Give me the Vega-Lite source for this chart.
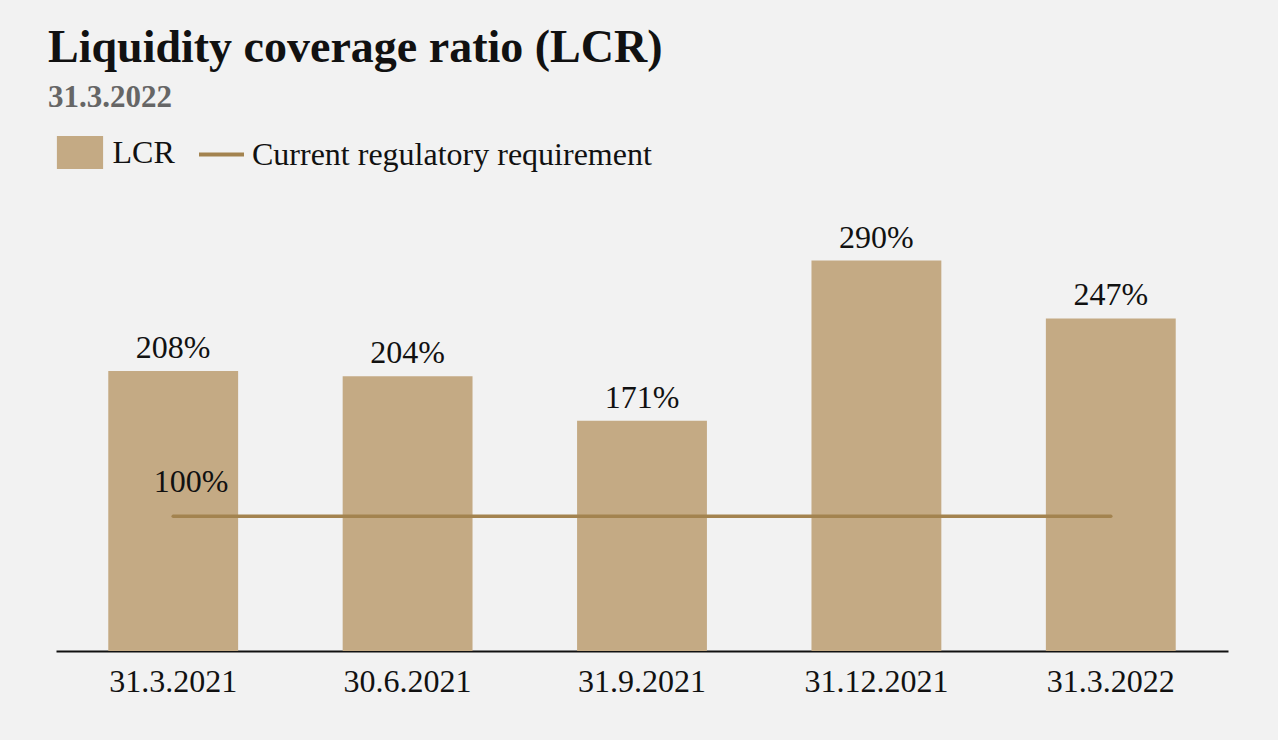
{
  "$schema": "https://vega.github.io/schema/vega-lite/v6.json",
  "autosize": "none",
  "width": 1172,
  "height": 451,
  "padding": {"left": 56, "top": 200, "right": 50, "bottom": 89},
  "background": "#f2f2f2",
  "title": {
    "text": "Liquidity coverage ratio (LCR)",
    "subtitle": "31.3.2022",
    "anchor": "start",
    "frame": "group",
    "dx": -8,
    "offset": 16,
    "font": "Liberation Serif",
    "fontSize": 46,
    "fontWeight": "bold",
    "color": "#111111",
    "subtitleFont": "Liberation Serif",
    "subtitleFontSize": 31,
    "subtitleFontWeight": "bold",
    "subtitleColor": "#666666",
    "subtitlePadding": 11
  },
  "config": {
    "view": {"stroke": null},
    "font": "Liberation Serif"
  },
  "data": {
    "values": [
      {"date": "31.3.2021", "lcr": 208, "label": "208%", "req": 100},
      {"date": "30.6.2021", "lcr": 204, "label": "204%", "req": 100},
      {"date": "31.9.2021", "lcr": 171, "label": "171%", "req": 100},
      {"date": "31.12.2021", "lcr": 290, "label": "290%", "req": 100},
      {"date": "31.3.2022", "lcr": 247, "label": "247%", "req": 100}
    ]
  },
  "encoding": {
    "x": {
      "field": "date",
      "type": "nominal",
      "sort": null,
      "scale": {"paddingInner": 0.446, "paddingOuter": 0.223},
      "axis": {
        "title": null,
        "labelAngle": 0,
        "labelFont": "Liberation Serif",
        "labelFontSize": 32,
        "labelColor": "#111111",
        "labelPadding": 15,
        "ticks": false,
        "domainColor": "#111111",
        "domainWidth": 2,
        "grid": false
      }
    }
  },
  "layer": [
    {
      "mark": {"type": "bar"},
      "encoding": {
        "y": {"field": "lcr", "type": "quantitative", "scale": {"domain": [0, 335]}, "axis": null},
        "fill": {
          "datum": "LCR",
          "scale": {"range": ["#c4aa84"]},
          "legend": {
            "orient": "none",
            "legendX": 7.5,
            "legendY": -64,
            "title": null,
            "symbolType": "M-1.4,-1H1.4V1H-1.4Z",
            "symbolSize": 1089,
            "symbolStrokeWidth": 0,
            "symbolOpacity": 1,
            "labelFont": "Liberation Serif",
            "labelFontSize": 32,
            "labelColor": "#111111",
            "labelOffset": 16,
            "labelLimit": 600
          }
        }
      }
    },
    {
      "mark": {"type": "text", "baseline": "alphabetic", "dy": -13, "fontSize": 32, "font": "Liberation Serif", "color": "#111111"},
      "encoding": {
        "y": {"field": "lcr", "type": "quantitative", "scale": {"domain": [0, 335]}},
        "text": {"field": "label", "type": "nominal"}
      }
    },
    {
      "mark": {"type": "line", "strokeWidth": 3.5, "strokeCap": "round"},
      "encoding": {
        "y": {"field": "req", "type": "quantitative", "scale": {"domain": [0, 335]}},
        "stroke": {
          "datum": "Current regulatory requirement",
          "scale": {"range": ["#a3834f"]},
          "legend": {
            "orient": "none",
            "legendX": 141,
            "legendY": -70,
            "title": null,
            "symbolType": "stroke",
            "symbolSize": 2025,
            "symbolStrokeWidth": 4,
            "labelFont": "Liberation Serif",
            "labelFontSize": 32,
            "labelColor": "#111111",
            "labelOffset": 6,
            "labelLimit": 800
          }
        }
      }
    },
    {
      "transform": [{"filter": "datum.date == '31.3.2021'"}],
      "mark": {"type": "text", "baseline": "alphabetic", "dx": 18, "dy": -24, "fontSize": 32, "font": "Liberation Serif", "color": "#111111"},
      "encoding": {
        "y": {"field": "req", "type": "quantitative", "scale": {"domain": [0, 335]}},
        "text": {"value": "100%"}
      }
    }
  ]
}
